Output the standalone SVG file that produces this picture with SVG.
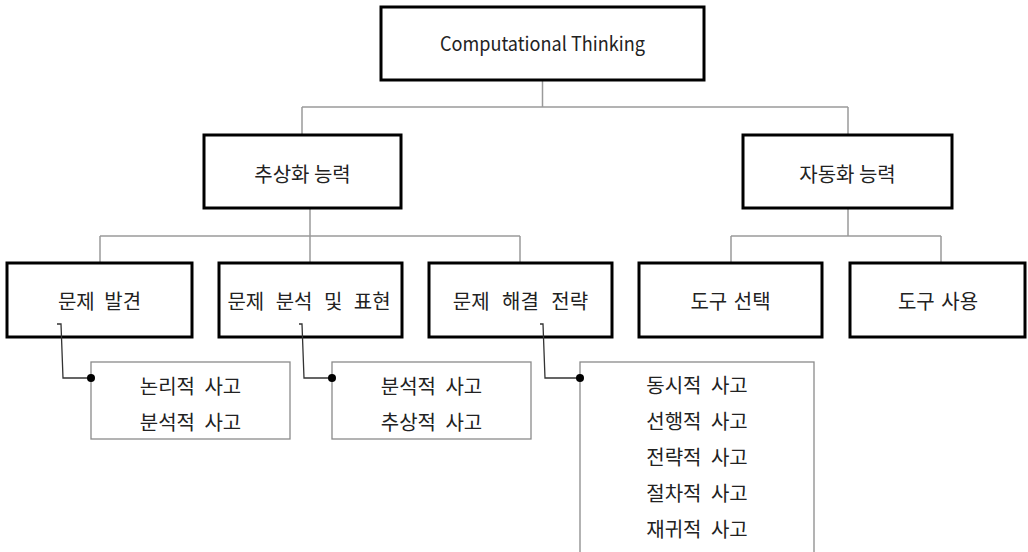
<svg xmlns="http://www.w3.org/2000/svg" width="1028" height="552" viewBox="0 0 1028 552">
<style>
.box{fill:#fff;stroke:#000;stroke-width:3}
.sub{fill:#fff;stroke:#8a8a8a;stroke-width:1.3}
.ln{fill:none;stroke:#9a9a9a;stroke-width:1.5}
.ln2{fill:none;stroke:#333;stroke-width:1.3}
text{font-family:"Noto Sans CJK KR","Noto Sans",sans-serif;font-size:20px;fill:#222;text-anchor:middle;word-spacing:5px}
</style>
<rect width="1028" height="552" fill="#fff"/>
<g id="connectors">
<path class="ln" d="M542.5 80V107M302 107H848M302 107V135M848 107V135"/>
<path class="ln" d="M310 208V236M100 236H520M100 236V263M310 236V263M520 236V263"/>
<path class="ln" d="M848 208V236M731 236H941M731 236V263M941 236V263"/>
</g>
<g id="n-ct"><rect class="box" x="381" y="7" width="323" height="73"/><text x="542.5" y="51" textLength="205" lengthAdjust="spacingAndGlyphs" style="word-spacing:0;font-size:19.5px">Computational Thinking</text></g>
<g id="n-abs"><rect class="box" x="204" y="135" width="197" height="73"/><text x="302.5" y="182" style="word-spacing:0">추상화 능력</text></g>
<g id="n-auto"><rect class="box" x="743" y="135" width="209" height="73"/><text x="847.5" y="182" style="word-spacing:0">자동화 능력</text></g>
<g id="n-find"><rect class="box" x="7" y="263" width="185" height="74"/><text x="99.5" y="309">문제 발견</text></g>
<g id="n-analyze"><rect class="box" x="219" y="263" width="183" height="74"/><text x="309" y="309" style="word-spacing:7px">문제 분석 및 표현</text></g>
<g id="n-solve"><rect class="box" x="429" y="263" width="183" height="74"/><text x="520.5" y="309" style="word-spacing:8px">문제 해결 전략</text></g>
<g id="n-select"><rect class="box" x="639" y="263" width="183" height="74"/><text x="730.5" y="309" style="word-spacing:2px">도구 선택</text></g>
<g id="n-use"><rect class="box" x="850" y="263" width="175" height="74"/><text x="938" y="309" style="word-spacing:2px">도구 사용</text></g>
<g id="s-find"><rect class="sub" x="91" y="362" width="199" height="77"/><text x="190.5" y="394">논리적 사고</text><text x="190.5" y="430">분석적 사고</text></g>
<g id="s-analyze"><rect class="sub" x="332" y="362" width="199" height="77"/><text x="431.5" y="394">분석적 사고</text><text x="431.5" y="430">추상적 사고</text></g>
<g id="s-solve"><rect class="sub" x="580" y="362" width="234" height="200"/><text x="697" y="393">동시적 사고</text><text x="697" y="429">선행적 사고</text><text x="697" y="465">전략적 사고</text><text x="697" y="501">절차적 사고</text><text x="697" y="537">재귀적 사고</text></g>
<g id="leaders">
<path class="ln2" d="M57 324H61L63 378H91"/><circle cx="91" cy="378" r="4" fill="#000"/>
<path class="ln2" d="M299 324H302L304 378H332"/><circle cx="332" cy="378" r="4" fill="#000"/>
<path class="ln2" d="M540 324H543L545 378H580"/><circle cx="580" cy="378" r="4" fill="#000"/>
</g>
</svg>
